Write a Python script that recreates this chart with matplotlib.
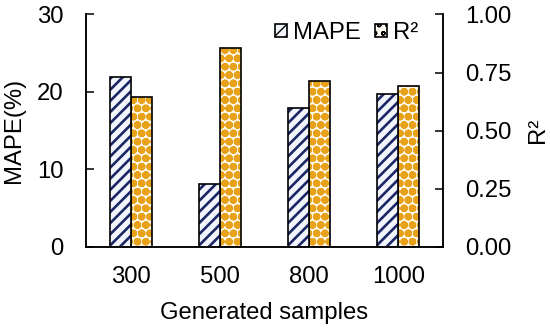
import numpy as np
import matplotlib
matplotlib.use("Agg")
import matplotlib.pyplot as plt
from matplotlib.patches import Patch

plt.rcParams["font.family"] = ["Liberation Sans", "DejaVu Sans"]

samples = ["300", "500", "800", "1000"]
mape = [21.9, 8.1, 17.9, 19.7]
r2 = [0.643, 0.855, 0.714, 0.692]

NAVY = "#1c2566"
ORANGE = "#e8a21a"
MAPE_BG = "#f2f6fc"
R2_BG = "#fffaf0"
FS = 17.2

fig = plt.figure(figsize=(5.5, 3.28), dpi=100)
ax = fig.add_axes([0.1564, 0.247, 0.649, 0.709])
ax2 = ax.twinx()

x = np.arange(len(samples))
w = 0.235

# hatch line width is picked up per artist when it is created
with plt.rc_context({"hatch.linewidth": 1.9}):
    ax.bar(x - w, mape, w, align="edge", facecolor=MAPE_BG,
           edgecolor=NAVY, hatch="///", linewidth=0)
    h1 = Patch(facecolor=MAPE_BG, edgecolor=NAVY, hatch="///", linewidth=0)
with plt.rc_context({"hatch.linewidth": 3.0}):
    ax2.bar(x, r2, w, align="edge", facecolor=R2_BG,
            edgecolor=ORANGE, hatch="oo", linewidth=0)
    h2 = Patch(facecolor=R2_BG, edgecolor=ORANGE, hatch="oo", linewidth=0)
# black outlines on top of the hatching
ax.bar(x - w, mape, w, align="edge", fill=False, edgecolor="black", linewidth=1.2)
ax2.bar(x, r2, w, align="edge", fill=False, edgecolor="black", linewidth=1.2)

ax.set_xlim(-0.5, 3.5)
ax.set_ylim(0, 30)
ax2.set_ylim(0, 1.0)
ax.set_yticks([0, 10, 20, 30])
ax2.set_yticks([0, 0.25, 0.5, 0.75, 1.0])
ax2.set_yticklabels(["0.00", "0.25", "0.50", "0.75", "1.00"])
ax.set_xticks(x)
ax.set_xticklabels(samples)

ax.tick_params(axis="x", length=0, pad=14, labelsize=FS)
ax.tick_params(axis="y", direction="in", length=6, width=1.1, pad=16, labelsize=FS)
ax2.tick_params(axis="y", direction="in", length=6, width=1.1, pad=16, labelsize=FS)

for a in (ax, ax2):
    a.spines["top"].set_visible(False)
    for s in ("left", "right", "bottom"):
        a.spines[s].set_linewidth(1.1)

ax.set_xlabel("Generated samples", fontsize=FS, labelpad=10)
ax.set_ylabel("MAPE(%)", fontsize=FS, labelpad=9)
ax2.set_ylabel("R²", fontsize=FS, labelpad=11)

leg = ax.legend([h1, h2], ["MAPE", "R²"], ncol=2, frameon=False, fontsize=FS,
                loc="upper right", bbox_to_anchor=(0.99, 1.06),
                handlelength=0.5, handleheight=0.5, handletextpad=0.25,
                columnspacing=0.6)
for p in leg.get_patches():
    p.set_edgecolor("black")
    p.set_linewidth(1.2)
ax.set_zorder(ax2.get_zorder() + 1)
ax.patch.set_visible(False)

fig.savefig("out.png", dpi=100)
